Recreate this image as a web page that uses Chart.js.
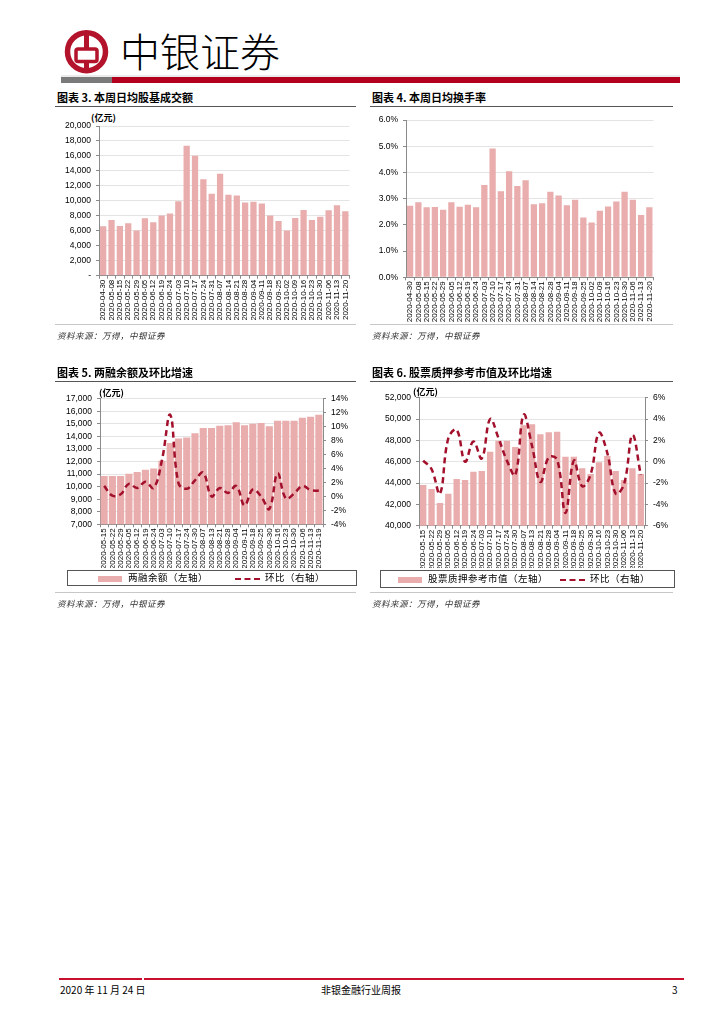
<!DOCTYPE html>
<html><head><meta charset="utf-8">
<script src="https://cdn.jsdelivr.net/npm/chart.js@4.4.0/dist/chart.umd.min.js"></script>
<style>
body{margin:0;width:724px;height:1024px;background:#fff;position:relative;overflow:hidden;font-family:"Noto Sans CJK SC",sans-serif;color:#000;}
.a{position:absolute;white-space:nowrap;}
.title{font-size:11px;font-weight:bold;line-height:12px;}
.uline{height:1px;background:#555;}
.sep{height:1px;background:#c8c8c8;}
.src{font-size:8.5px;font-style:italic;color:#333;letter-spacing:0.5px;}
.unit{font-size:9px;font-weight:bold;}
.leg{border:1px solid #555;}
.legt{font-size:9.5px;line-height:11px;letter-spacing:0.5px;}
canvas{position:absolute;}
</style></head><body>

<!-- header -->
<svg class="a" style="left:0;top:0" width="724" height="90">
  <circle cx="86.5" cy="51.7" r="19" fill="none" stroke="#B3132B" stroke-width="5.5"/>
  <rect x="84" y="31" width="5" height="42" fill="#B3132B"/>
  <rect x="76" y="49" width="21" height="12.5" rx="2" fill="#fff" stroke="#B3132B" stroke-width="3.5"/>
  <rect x="61" y="75.5" width="619" height="1" fill="#d8d8d8"/>
  <rect x="61" y="77" width="51" height="6" fill="#7a7a7a"/>
  <rect x="112" y="77" width="568" height="6" fill="#B3001E"/>
</svg>
<div class="a" style="left:120px;top:26px;font-size:40px;line-height:48px;font-weight:300;">中银证券</div>

<!-- chart 3 -->
<div class="a title" style="left:57px;top:91px;">图表 3. 本周日均股基成交额</div>
<div class="a uline" style="left:55px;top:106px;width:301px;"></div>
<div class="a unit" style="left:91px;top:111px;">(亿元)</div>
<canvas id="c3" width="306" height="215" style="left:50px;top:110px"></canvas>
<div class="a sep" style="left:55px;top:324px;width:301px;"></div>
<div class="a src" style="left:57px;top:329px;">资料来源：万得，中银证券</div>

<!-- chart 4 -->
<div class="a title" style="left:372px;top:91px;">图表 4. 本周日均换手率</div>
<div class="a uline" style="left:370px;top:106px;width:303px;"></div>
<canvas id="c4" width="295" height="215" style="left:365px;top:110px"></canvas>
<div class="a sep" style="left:370px;top:324px;width:303px;"></div>
<div class="a src" style="left:372px;top:329px;">资料来源：万得，中银证券</div>

<!-- chart 5 -->
<div class="a title" style="left:57px;top:366px;">图表 5. 两融余额及环比增速</div>
<div class="a uline" style="left:55px;top:381px;width:301px;"></div>
<div class="a unit" style="left:99px;top:386px;">(亿元)</div>
<canvas id="c5" width="306" height="183" style="left:50px;top:385px"></canvas>
<div class="a leg" style="left:67px;top:570px;width:288px;height:14px;"></div>
<div class="a" style="left:98px;top:576px;width:24px;height:6px;background:#E9ADAD;"></div>
<div class="a legt" style="left:128px;top:572px;">两融余额（左轴）</div>
<div class="a" style="left:235px;top:578px;width:25px;height:0;border-top:2.5px dashed #A3102C;"></div>
<div class="a legt" style="left:265px;top:572px;">环比（右轴）</div>
<div class="a sep" style="left:55px;top:592px;width:301px;"></div>
<div class="a src" style="left:57px;top:597px;">资料来源：万得，中银证券</div>

<!-- chart 6 -->
<div class="a title" style="left:372px;top:366px;">图表 6. 股票质押参考市值及环比增速</div>
<div class="a uline" style="left:370px;top:381px;width:303px;"></div>
<div class="a unit" style="left:413px;top:385px;">(亿元)</div>
<canvas id="c6" width="310" height="183" style="left:365px;top:385px"></canvas>
<div class="a leg" style="left:380px;top:570px;width:293px;height:16px;"></div>
<div class="a" style="left:398px;top:577px;width:24px;height:6px;background:#E9ADAD;"></div>
<div class="a legt" style="left:428px;top:573px;">股票质押参考市值（左轴）</div>
<div class="a" style="left:560px;top:579px;width:25px;height:0;border-top:2.5px dashed #A3102C;"></div>
<div class="a legt" style="left:590px;top:573px;">环比（右轴）</div>
<div class="a sep" style="left:370px;top:592px;width:303px;"></div>
<div class="a src" style="left:372px;top:597px;">资料来源：万得，中银证券</div>

<!-- footer -->
<div class="a" style="left:59px;top:978px;width:83px;height:1.5px;background:#C8102E;"></div>
<div class="a" style="left:144px;top:978px;width:540px;height:1.5px;background:#C8102E;"></div>
<div class="a" style="left:60px;top:983px;font-size:10px;line-height:13px;">2020 年 11 月 24 日</div>
<div class="a" style="left:321px;top:983px;font-size:10px;line-height:13px;">非银金融行业周报</div>
<div class="a" style="left:672px;top:983px;font-size:10px;line-height:13px;">3</div>

<script>
// ---------- data ----------
const weekLabels = ["2020-04-30","2020-05-08","2020-05-15","2020-05-22","2020-05-29","2020-06-05","2020-06-12","2020-06-19","2020-06-24","2020-07-03","2020-07-10","2020-07-17","2020-07-24","2020-07-31","2020-08-07","2020-08-14","2020-08-21","2020-08-28","2020-09-04","2020-09-11","2020-09-18","2020-09-25","2020-10-02","2020-10-09","2020-10-16","2020-10-23","2020-10-30","2020-11-06","2020-11-13","2020-11-20"];
const dailyTurnoverValue = [6600,7450,6650,7000,6030,7680,7140,8040,8300,9950,17370,16030,12900,10940,13620,10800,10710,9780,9870,9640,8040,7320,6030,7720,8790,7450,7860,8750,9420,8620];
const dailyTurnoverRate = [2.73,2.86,2.67,2.68,2.58,2.86,2.69,2.77,2.67,3.52,4.92,3.28,4.05,3.48,3.70,2.79,2.83,3.27,3.12,2.75,2.96,2.28,2.09,2.54,2.70,2.89,3.27,2.96,2.38,2.67];

const marginLabels = ["2020-05-15","2020-05-22","2020-05-29","2020-06-05","2020-06-12","2020-06-19","2020-06-24","2020-07-03","2020-07-10","2020-07-17","2020-07-24","2020-07-30","2020-08-07","2020-08-13","2020-08-21","2020-08-28","2020-09-04","2020-09-11","2020-09-18","2020-09-25","2020-09-30","2020-10-16","2020-10-23","2020-10-30","2020-11-06","2020-11-13","2020-11-19"];
const marginBalance = [10850,10850,10850,11030,11160,11350,11450,12050,13470,13840,13920,14240,14670,14670,14850,14880,15120,14880,15010,15060,14800,15250,15250,15250,15490,15570,15730];
const marginChange = [1.5,0.1,0.3,1.8,1.2,2.1,1.2,5.2,11.7,1.9,1.1,2.3,3.4,0.0,1.2,0.5,1.5,-1.3,1.0,0.0,-1.8,3.3,-0.3,0.4,1.5,0.9,0.8];

const pledgeLabels = ["2020-05-15","2020-05-22","2020-05-29","2020-06-05","2020-06-12","2020-06-19","2020-06-24","2020-07-03","2020-07-10","2020-07-17","2020-07-24","2020-07-30","2020-08-07","2020-08-13","2020-08-21","2020-08-28","2020-09-04","2020-09-11","2020-09-18","2020-09-25","2020-09-30","2020-10-16","2020-10-23","2020-10-30","2020-11-06","2020-11-13","2020-11-20"];
const pledgeValue = [43810,43440,42130,43000,44380,44280,45060,45130,46940,47970,47970,47380,49420,49500,48570,48760,48800,46470,46470,45380,44840,45950,46530,45130,44280,45380,44840];
const pledgeChange = [0.1,-0.7,-3.0,2.2,3.0,0.0,1.9,0.3,4.0,2.2,0.1,-1.25,4.4,1.5,-1.9,0.4,0.2,-4.8,0.1,-2.3,-1.2,2.7,0.8,-3.0,-2.1,2.5,-1.25];

// ---------- style ----------
const BAR = '#E9ADAD';
const LINE = '#A3102C';
const AXIS = '#8a8a8a';
const GRID = '#e4e4e4';
Chart.defaults.font.family = "'Liberation Sans',Arial,sans-serif";
Chart.defaults.font.size = 8;
Chart.defaults.color = '#000';
Chart.defaults.animation = false;

function xAxis(h){
  return {
    type:'category', offset:true,
    grid:{offset:true, drawOnChartArea:false, drawTicks:true, tickLength:3, tickColor:AXIS},
    border:{display:true, color:AXIS, width:1},
    ticks:{autoSkip:false, maxRotation:90, minRotation:90, padding:1, font:{size:8}},
    afterFit:s=>{s.height=h;}
  };
}
function yAxis(pos,w,min,max,step,fmt,grid){
  return {
    position:pos, min:min, max:max,
    grid:{display:true, drawOnChartArea:grid, color:GRID, lineWidth:1, drawTicks:true, tickLength:3, tickColor:AXIS},
    border:{display:true, color:AXIS, width:1},
    ticks:{stepSize:step, autoSkip:false, padding:5, callback:fmt, font:{size:8.5}},
    afterFit:s=>{s.width=w;}
  };
}
const thousands = v => v===0 ? '-' : v.toLocaleString('en-US');
const pctInt = v => v + '%';

function base(pad){
  return {responsive:false, maintainAspectRatio:false, animation:false,
    layout:{padding:pad},
    plugins:{legend:{display:false}, tooltip:{enabled:false}}};
}

// chart 3
new Chart(document.getElementById('c3'), {
  type:'bar',
  data:{labels:weekLabels, datasets:[{data:dailyTurnoverValue, backgroundColor:BAR, barPercentage:0.75, categoryPercentage:1}]},
  options:Object.assign(base({top:16,right:4,left:0,bottom:0}),{
    scales:{x:xAxis(49.3), y:yAxis('left',49,0,20000,2000,thousands,true)}
  })
});

// chart 4
new Chart(document.getElementById('c4'), {
  type:'bar',
  data:{labels:weekLabels, datasets:[{data:dailyTurnoverRate, backgroundColor:BAR, barPercentage:0.76, categoryPercentage:1}]},
  options:Object.assign(base({top:8.3,right:3.5,left:0,bottom:0}),{
    scales:{x:xAxis(47.7), y:yAxis('left',41,0,6,1,v=>v.toFixed(1)+'%',true)}
  })
});

// chart 5
new Chart(document.getElementById('c5'), {
  type:'bar',
  data:{labels:marginLabels, datasets:[
    {type:'line', data:marginChange, yAxisID:'y1', borderColor:LINE, borderWidth:2.5, borderDash:[6,4], pointRadius:0, tension:0.4, fill:false, order:0},
    {type:'bar', data:marginBalance, yAxisID:'y', backgroundColor:BAR, barPercentage:0.86, categoryPercentage:1, order:1}
  ]},
  options:Object.assign(base({top:13.7,right:0,left:0,bottom:0}),{
    scales:{x:xAxis(43.7),
      y:yAxis('left',50,7000,17000,1000,thousands,true),
      y1:yAxis('right',33,-4,14,2,pctInt,false)}
  })
});

// chart 6
new Chart(document.getElementById('c6'), {
  type:'bar',
  data:{labels:pledgeLabels, datasets:[
    {type:'line', data:pledgeChange, yAxisID:'y1', borderColor:LINE, borderWidth:2.5, borderDash:[6,4], pointRadius:0, tension:0.4, fill:false, order:0},
    {type:'bar', data:pledgeValue, yAxisID:'y', backgroundColor:BAR, barPercentage:0.76, categoryPercentage:1, order:1}
  ]},
  options:Object.assign(base({top:12.7,right:0,left:0,bottom:0}),{
    scales:{x:xAxis(42.3),
      y:yAxis('left',54,40000,52000,2000,thousands,true),
      y1:yAxis('right',30,-6,6,2,pctInt,false)}
  })
});
</script>
</body></html>
